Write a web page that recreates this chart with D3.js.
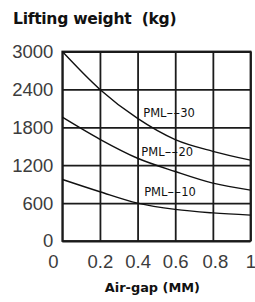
<!DOCTYPE html>
<html>
<head>
<meta charset="utf-8">
<script src="https://cdn.jsdelivr.net/npm/d3@7"></script>
<style>
  body { margin: 0; background: #fff; }
  svg { display: block; }
</style>
</head>
<body>
<div id="chart"></div>
<script>
// Data
const airGap = [0, 0.2, 0.4, 0.6, 0.8, 1];
const pml30 = [3000, 2400, 1940, 1605, 1420, 1280];
const pml20 = [1960, 1610, 1310, 1100, 916, 805];
const pml10 = [975, 780, 600, 500, 445, 410];
const seriesNames = ["PML--30", "PML--20", "PML--10"];
// label anchor of each curve, in data units (air-gap, kg)
const labelX = [0.43, 0.42, 0.435];
const labelY = [2030, 1405, 775];
const yTicks = [0, 600, 1200, 1800, 2400, 3000];
const xTicks = [0, 0.2, 0.4, 0.6, 0.8, 1];

const margin = {top: 51.5, right: 4.5, bottom: 61, left: 62.3},
    width = 255 - margin.left - margin.right,
    height = 302 - margin.top - margin.bottom,
    gridColor = "#1b1b1b",
    tickFont = "'Liberation Sans', Arial, sans-serif",
    boldFont = "'DejaVu Sans', Verdana, sans-serif";

const root = d3.select("#chart").append("svg")
    .attr("width", 255)
    .attr("height", 302);

root.append("text")
    .attr("x", 13)
    .attr("y", 23.5)
    .attr("xml:space", "preserve")
    .style("white-space", "pre")
    .style("font-family", boldFont)
    .style("font-weight", "bold")
    .style("font-size", "15.6px")
    .style("letter-spacing", "-0.3px")
    .style("fill", "#111")
    .text("Lifting weight  (kg)");

const svg = root.append("g")
    .attr("transform", "translate(" + margin.left + "," + margin.top + ")");

const x = d3.scaleLinear().domain([0, 1]).range([0, width]);
const y = d3.scaleLinear().domain([0, 3000]).range([height, 0]);

// grid + y labels
const yAxis = svg.append("g")
    .call(d3.axisLeft(y).tickValues(yTicks).tickSize(-width).tickPadding(9).tickFormat(d3.format("d")));
yAxis.select(".domain").remove();
yAxis.selectAll("line").style("stroke", gridColor).style("stroke-width", 1.8);
yAxis.selectAll("text")
    .style("font-family", tickFont)
    .style("font-size", "18.5px")
    .style("fill", "#3c3c3c");

const xAxis = svg.append("g")
    .attr("transform", "translate(0," + height + ")")
    .call(d3.axisBottom(x).tickValues(xTicks).tickSize(-height).tickPadding(14).tickFormat(d => d === 0 || d === 1 ? d : d3.format(".1f")(d)));
xAxis.select(".domain").remove();
xAxis.selectAll("line").style("stroke", gridColor).style("stroke-width", 1.8);
xAxis.selectAll("text")
    .attr("dx", d => d === 0 ? -9.5 : (d === 0.8 ? 2 : 0))
    .style("font-family", tickFont)
    .style("font-size", "18.5px")
    .style("fill", "#3c3c3c");

svg.append("rect")
    .attr("width", width)
    .attr("height", height)
    .style("fill", "none")
    .style("stroke", gridColor)
    .style("stroke-width", 1.8);

// curves
const line = d3.line()
    .x(d => x(d[0]))
    .y(d => y(d[1]))
    .curve(d3.curveMonotoneX);

[pml30, pml20, pml10].forEach(values => {
    svg.append("path")
        .datum(airGap.map((g, i) => [g, values[i]]))
        .attr("d", line)
        .style("fill", "none")
        .style("stroke", "#111")
        .style("stroke-width", 1.4);
});

// curve labels: the "--" is stretched into one long dash as in the original
const labels = svg.selectAll("text.pml")
    .data(seriesNames)
    .enter().append("text")
    .attr("class", "pml")
    .attr("x", (d, i) => x(labelX[i]))
    .attr("y", (d, i) => y(labelY[i]))
    .attr("dy", "0.36em")
    .style("font-family", boldFont)
    .style("font-size", "11.5px")
    .style("fill", "#111");

labels.append("tspan").text(d => d.split("--")[0]);
labels.append("tspan")
    .attr("textLength", 14)
    .attr("lengthAdjust", "spacingAndGlyphs")
    .text("--");
labels.append("tspan").text(d => d.split("--")[1]);

root.append("text")
    .attr("x", margin.left + width / 2 - 4)
    .attr("y", 291.5)
    .attr("text-anchor", "middle")
    .style("font-family", boldFont)
    .style("font-weight", "bold")
    .style("font-size", "12.9px")
    .style("fill", "#111")
    .text("Air-gap (MM)");
</script>
</body>
</html>
